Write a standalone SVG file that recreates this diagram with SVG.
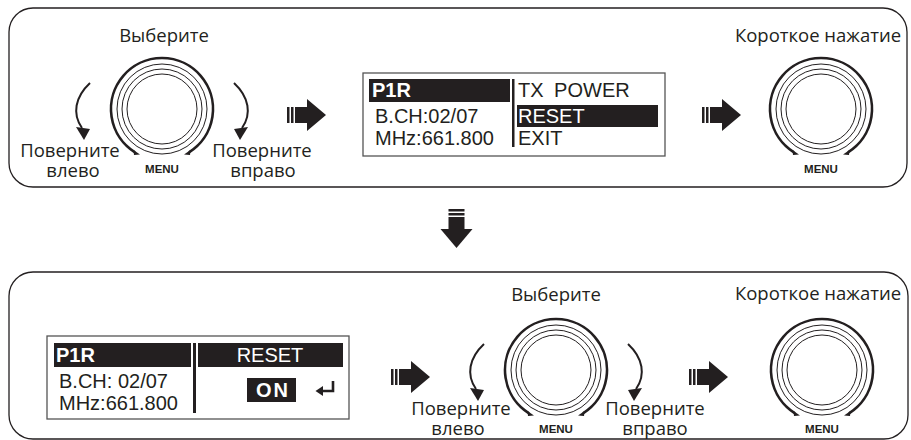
<svg xmlns="http://www.w3.org/2000/svg" width="911" height="440" viewBox="0 0 911 440">
<style>
.panel{fill:none;stroke:#231f20;stroke-width:1.3}
.lbl{font-family:"Open Sans","Noto Sans",sans-serif;font-size:18.5px;fill:#231f20;text-anchor:middle}
.menu{font-family:"Liberation Sans",Arial,sans-serif;font-weight:bold;font-size:11.5px;fill:#231f20;text-anchor:middle}
.ring{fill:none;stroke:#231f20;stroke-width:1}
.rim{fill:none;stroke:#231f20;stroke-width:2.6}
.ink{fill:#231f20}
.lcdbox{fill:#fff;stroke:#555;stroke-width:1.3}
.lcd{font-family:"Liberation Sans",Arial,sans-serif;font-size:20px;fill:#231f20}
.inv{font-family:"Liberation Sans",Arial,sans-serif;font-size:20px;fill:#fff}
.b{font-weight:bold}
.rot{fill:none;stroke:#231f20;stroke-width:2}
</style>
<defs>
  <g id="knob">
    <path class="rim" d="M -27,43.3 A 51 51 0 1 1 27,43.3"/>
    <polygon class="ink" points="-28.5,41 -22,45.5 -28,46"/>
    <polygon class="ink" points="28.5,41 22,45.5 28,46"/>
    <circle class="ring" r="45"/>
    <circle class="ring" r="40"/>
    <circle class="ring" r="35"/>
  </g>
  <g id="rotL">
    <path class="rot" d="M -72,-26 C -87,-12 -90,5 -80,19"/>
    <polygon class="ink" points="-86,18 -72,20 -78,31"/>
  </g>
  <g id="rarrow">
    <rect x="0" y="-8" width="2.5" height="16"/>
    <rect x="4" y="-8" width="2.5" height="16"/>
    <rect x="8" y="-8" width="13" height="16"/>
    <polygon points="20,-16 39,0 20,16"/>
  </g>
</defs>

<g id="panel-top"><rect class="panel" x="9" y="8" width="898" height="179" rx="24"/></g>
<g id="panel-bottom"><rect class="panel" x="9" y="272" width="899" height="167" rx="24"/></g>

<g id="knob-select-1" transform="translate(162,109)">
  <use href="#knob"/>
  <use href="#rotL"/>
  <use href="#rotL" transform="scale(-1,1)"/>
  <text class="lbl" x="2" y="-67">Выберите</text>
  <text class="lbl"><tspan x="-92" y="48">Поверните</tspan><tspan x="-89" y="68">влево</tspan></text>
  <text class="lbl"><tspan x="100" y="48">Поверните</tspan><tspan x="101" y="68">вправо</tspan></text>
  <text class="menu" x="0" y="64">MENU</text>
</g>

<g id="lcd-menu">
  <rect class="lcdbox" x="363" y="73" width="302" height="83"/>
  <rect class="ink" x="369" y="79" width="141" height="23"/>
  <text class="inv b" x="372" y="97">P1R</text>
  <text class="lcd" x="375" y="123">B.CH:02/07</text>
  <text class="lcd" x="375" y="145">MHz:661.800</text>
  <rect class="ink" x="512" y="79" width="2.5" height="68"/>
  <text class="lcd" x="518" y="97" word-spacing="5">TX POWER</text>
  <rect class="ink" x="517" y="105" width="141" height="22"/>
  <text class="inv" x="518" y="123" font-size="21">RESET</text>
  <text class="lcd" x="518" y="145">EXIT</text>
</g>

<g id="knob-press-1" transform="translate(821,109)">
  <use href="#knob"/>
  <text class="lbl" x="-3" y="-67">Короткое нажатие</text>
  <text class="menu" x="0" y="64">MENU</text>
</g>

<g id="lcd-reset">
  <rect class="lcdbox" x="47" y="336" width="302" height="83"/>
  <rect class="ink" x="54" y="343" width="137" height="24"/>
  <text class="inv b" x="56" y="362" font-size="22">P1R</text>
  <rect class="ink" x="193" y="343" width="3" height="70"/>
  <rect class="ink" x="198" y="343" width="145" height="24"/>
  <text class="inv" x="270" y="362" font-size="21" text-anchor="middle">RESET</text>
  <text class="lcd" x="59" y="388" font-size="22">B.CH: 02/07</text>
  <text class="lcd" x="59" y="410" font-size="22">MHz:661.800</text>
  <rect class="ink" x="247" y="378" width="49" height="24"/>
  <text class="inv b" x="273" y="397" font-size="21" letter-spacing="2" text-anchor="middle">ON</text>
  <path d="M333,381 V391 H321" fill="none" stroke="#231f20" stroke-width="2.6"/>
  <polygon class="ink" points="323,386 315.5,391 323,396"/>
</g>

<g id="knob-select-2" transform="translate(556,370)">
  <use href="#knob"/>
  <use href="#rotL"/>
  <use href="#rotL" transform="scale(-1,1)"/>
  <text class="lbl" x="0" y="-69">Выберите</text>
  <text class="lbl"><tspan x="-95" y="45">Поверните</tspan><tspan x="-98" y="65">влево</tspan></text>
  <text class="lbl"><tspan x="99" y="45">Поверните</tspan><tspan x="99" y="65">вправо</tspan></text>
  <text class="menu" x="0" y="63">MENU</text>
</g>

<g id="knob-press-2" transform="translate(822,370)">
  <use href="#knob"/>
  <text class="lbl" x="-4" y="-70">Короткое нажатие</text>
  <text class="menu" x="0" y="63">MENU</text>
</g>

<g id="connectors" fill="#231f20">
  <use href="#rarrow" transform="translate(287,115)"/>
  <use href="#rarrow" transform="translate(702,115)"/>
  <use href="#rarrow" transform="translate(456.5,209) rotate(90)"/>
  <use href="#rarrow" transform="translate(391,377)"/>
  <use href="#rarrow" transform="translate(689,377)"/>
</g>
</svg>
